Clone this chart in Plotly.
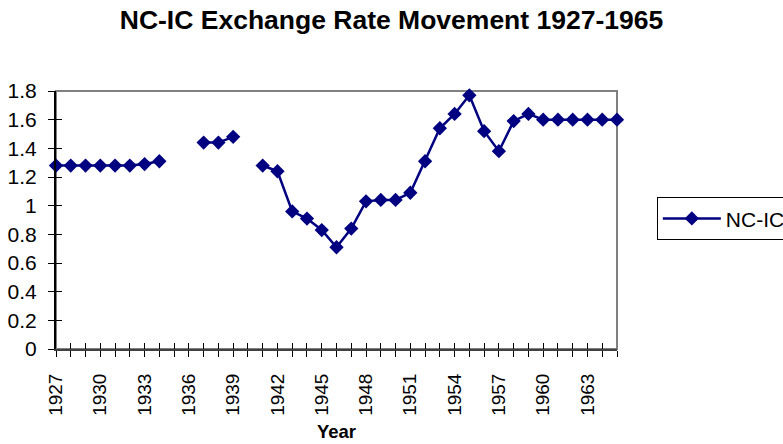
import plotly.graph_objects as go

years = list(range(1927, 1966))
rates = [1.28, 1.28, 1.28, 1.28, 1.28, 1.28, 1.29, 1.31, None, None,
         1.44, 1.44, 1.48, None, 1.28, 1.24, 0.96, 0.91, 0.83, 0.71,
         0.84, 1.03, 1.04, 1.04, 1.09, 1.31, 1.54, 1.64, 1.77, 1.52,
         1.38, 1.59, 1.64, 1.60, 1.60, 1.60, 1.60, 1.60, 1.60]
tick_labels = [str(y) if (y - 1927) % 3 == 0 else "" for y in years]
y_ticks = [0, 0.2, 0.4, 0.6, 0.8, 1, 1.2, 1.4, 1.6, 1.8]

FONT = "Liberation Sans, Arial, sans-serif"
NAVY = "#000080"

fig = go.Figure()
fig.add_trace(go.Scatter(
    x=years, y=rates, name="NC-IC", mode="lines+markers",
    line=dict(color=NAVY, width=2.5),
    marker=dict(symbol="diamond", size=11, color=NAVY),
    connectgaps=False, cliponaxis=False,
))
# helper trace so the overlaid axes (for cross tick marks) are drawn
fig.add_trace(go.Scatter(
    x=years, y=rates, xaxis="x2", yaxis="y2", mode="lines",
    line=dict(width=0, color="rgba(0,0,0,0)"), showlegend=False,
    hoverinfo="skip",
))

axis_common = dict(showgrid=False, zeroline=False)
fig.update_layout(
    width=783, height=444,
    margin=dict(l=56, r=166, t=91, b=95, autoexpand=False),
    paper_bgcolor="white", plot_bgcolor="white",
    font=dict(family=FONT, size=21, color="black"),
    title=dict(text="<b>NC-IC Exchange Rate Movement 1927-1965</b>",
               x=0.5, xref="container", xanchor="center",
               y=0.955, yref="container", yanchor="middle",
               font=dict(size=26.5)),
    xaxis=dict(range=[1927, 1965], tickmode="array", tickvals=years,
               ticktext=tick_labels, tickangle=-90, ticks="outside",
               ticklen=6, tickcolor="black", tickwidth=1,
               tickfont=dict(size=19), ticklabelstandoff=9,
               showline=True, linecolor="#404040", linewidth=2,
               title=dict(text="<b>Year</b>", font=dict(size=18.5), standoff=10),
               **axis_common),
    yaxis=dict(range=[0, 1.8], tickmode="array", tickvals=y_ticks,
               ticks="outside", ticklen=6, tickcolor="black", tickwidth=1,
               tickfont=dict(size=21),
               showline=True, linecolor="black", linewidth=2,
               ticklabelstandoff=7, **axis_common),
    xaxis2=dict(range=[1927, 1965], overlaying="x", anchor="y",
                tickmode="array", tickvals=years, ticks="inside", ticklen=6,
                tickcolor="black", tickwidth=1, showticklabels=False,
                showline=False, **axis_common),
    yaxis2=dict(range=[0, 1.8], overlaying="y", anchor="x", side="left",
                tickmode="array", tickvals=y_ticks, ticks="inside", ticklen=6,
                tickcolor="black", tickwidth=1, showticklabels=False,
                showline=False, **axis_common),
    legend=dict(x=1.071, y=0.588, xanchor="left", yanchor="top",
                bordercolor="black", borderwidth=1, bgcolor="white",
                itemwidth=58, font=dict(size=21)),
    shapes=[dict(type="rect", xref="paper", yref="paper", x0=0, x1=1,
                 y0=0, y1=1, line=dict(color="#808080", width=2),
                 layer="below")],
    showlegend=True,
)

fig.write_html("out.html",
               config={"displayModeBar": False},
               post_script="document.body.style.margin='0';")
